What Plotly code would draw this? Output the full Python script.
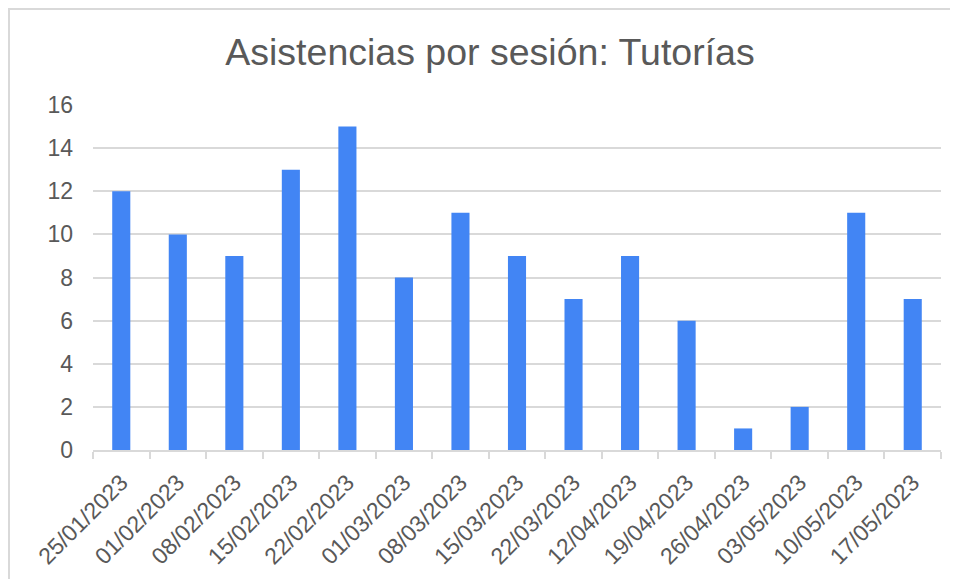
import plotly.graph_objects as go

sessions = ["25/01/2023", "01/02/2023", "08/02/2023", "15/02/2023", "22/02/2023",
            "01/03/2023", "08/03/2023", "15/03/2023", "22/03/2023", "12/04/2023",
            "19/04/2023", "26/04/2023", "03/05/2023", "10/05/2023", "17/05/2023"]
attendance = [12, 10, 9, 13, 15, 8, 11, 9, 7, 9, 6, 1, 2, 11, 7]
y_ticks = [0, 2, 4, 6, 8, 10, 12, 14, 16]

# page has an 8px body margin, so the figure is sized to fill the rest
W, H = 950, 571
L, R, T, B = 85, 17, 97, 129
pw, ph = W - L - R, H - T - B

def px_x(px):
    return (px - L) / pw

def px_y(py):
    return (H - B - py) / ph

FONT = "Liberation Sans, Arial, sans-serif"
GREY = "#595959"
LINE = "#d9d9d9"

fig = go.Figure(go.Bar(x=sessions, y=attendance, marker=dict(color="#4285F4", line=dict(width=0))))

fig.update_layout(
    width=W, height=H,
    margin=dict(l=L, r=R, t=T, b=B, autoexpand=False),
    paper_bgcolor="white", plot_bgcolor="white",
    bargap=0.68,
    showlegend=False,
    font=dict(family=FONT, color=GREY),
    title=dict(text="Asistencias por sesión: Tutorías", x=482 / W, xanchor="center",
               xref="container", yref="container", y=1 - 44 / H, yanchor="middle",
               font=dict(size=37.5, color=GREY, family=FONT)),
    shapes=[dict(type="rect", xref="paper", yref="paper", layer="below",
                 x0=px_x(1), x1=px_x(990), y0=px_y(620), y1=px_y(1),
                 line=dict(color=LINE, width=2), fillcolor="rgba(0,0,0,0)")],
)

fig.update_xaxes(type="category", showgrid=False, showline=True, linecolor=LINE, linewidth=2,
                 ticks="outside", tickson="boundaries", ticklen=7, tickcolor=LINE, tickwidth=2,
                 tickangle=-45, automargin=False, ticklabelstandoff=8,
                 tickfont=dict(size=23, color=GREY, family=FONT))
fig.update_yaxes(range=[0, 16], tickvals=y_ticks, showgrid=True, gridcolor=LINE, gridwidth=2,
                 zeroline=False, showline=False, ticks="", ticklabelstandoff=19, automargin=False,
                 tickfont=dict(size=23, color=GREY, family=FONT))

fig.write_html("out.html")
